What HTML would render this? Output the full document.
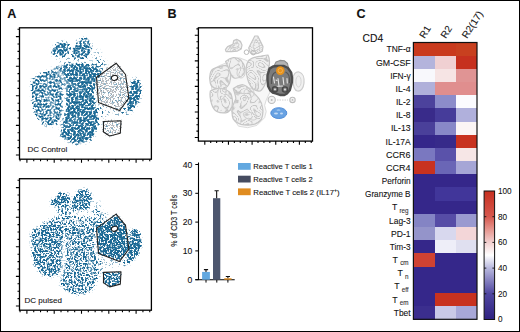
<!DOCTYPE html>
<html><head><meta charset="utf-8"><style>
html,body{margin:0;padding:0;background:#fff;overflow:hidden;width:520px;height:332px;}
svg{display:block;font-family:"Liberation Sans",sans-serif;}
text{fill:#111;stroke:#111;stroke-width:0.1px;}
</style></head><body>
<svg width="520" height="332" viewBox="0 0 520 332">
<defs><linearGradient id="cbg" x1="0" y1="1" x2="0" y2="0"><stop offset="0" stop-color="#2e2180"/><stop offset="0.2" stop-color="#4f46a0"/><stop offset="0.4" stop-color="#b8b8de"/><stop offset="0.5" stop-color="#ffffff"/><stop offset="0.6" stop-color="#f2d0d0"/><stop offset="0.7" stop-color="#e6968f"/><stop offset="0.8" stop-color="#d6584e"/><stop offset="1" stop-color="#c62f1f"/></linearGradient>
<filter id="cont" filterUnits="userSpaceOnUse" x="198" y="28" width="115" height="114" color-interpolation-filters="sRGB">
 <feTurbulence type="fractalNoise" baseFrequency="0.1" numOctaves="1" seed="4" result="n"/>
 <feColorMatrix in="n" type="matrix" values="0 0 0 0 0  0 0 0 0 0  0 0 0 0 0  1 0 0 0 0" result="na"/>
 <feComponentTransfer in="na" result="b"><feFuncA type="table" tableValues="0 1 0 1 0 1 0 1 0 1 0 1 0 1 0 1 0"/></feComponentTransfer>
 <feComponentTransfer in="b" result="b2"><feFuncA type="linear" slope="2.2" intercept="-1.1"/></feComponentTransfer>
 <feFlood flood-color="#c6c6c6"/>
 <feComposite in2="b2" operator="in" result="lines"/>
 <feComposite in="lines" in2="SourceAlpha" operator="in" result="l2"/>
 <feGaussianBlur in="l2" stdDeviation="0.35"/>
</filter>
<filter id="vb"><feGaussianBlur stdDeviation="0.8"/></filter>
<mask id="veins" maskUnits="userSpaceOnUse" x="0" y="0" width="520" height="332">
 <rect x="0" y="0" width="520" height="332" fill="#fff"/>
 <g filter="url(#vb)" fill="none" stroke-linecap="round">
  <path d="M53,66 L59,73 L65.5,83.5 L65,95" stroke="#555" stroke-width="2.4"/>
  <path d="M53,69 C57,69 61,71 63.7,75.3 L65,82" stroke="#888" stroke-width="1.6"/>
  <path d="M46,78 L52,80 L57,83" stroke="#999" stroke-width="1.8"/>
  <path d="M67,81.7 L74,86 L81.7,91.3" stroke="#999" stroke-width="1.8"/>
  <path d="M44,78 L48,86 L51,92" stroke="#aaa" stroke-width="2"/>
  <path d="M66,126 L74,120 L82.6,114.9" stroke="#aaa" stroke-width="1.6"/>
  <path d="M64.5,96 L63.6,108 L62,120 L58.5,127.5" stroke="#444" stroke-width="2.4"/>
  <path d="M48,95 L52,108 L53,116" stroke="#aaa" stroke-width="4"/>
 </g>
</mask>
<mask id="veins2" maskUnits="userSpaceOnUse" x="0" y="0" width="520" height="332">
 <rect x="0" y="0" width="520" height="332" fill="#fff"/>
 <g filter="url(#vb)" fill="none" stroke-linecap="round">
  <path d="M63.5,92 L63.6,110 L62.5,121 L60,128" stroke="#444" stroke-width="3"/>
  <path d="M66,84 L70,95 L72,105" stroke="#aaa" stroke-width="2.5"/>
  <path d="M88,100 L90,112 L92,125" stroke="#aaa" stroke-width="3"/>
 </g>
</mask>
<filter id="spk" filterUnits="userSpaceOnUse" x="19" y="27" width="133" height="285" color-interpolation-filters="sRGB">
 <feGaussianBlur in="SourceAlpha" stdDeviation="1.3" result="d"/>
 <feTurbulence type="fractalNoise" baseFrequency="0.5" numOctaves="3" seed="7" result="n"/>
 <feColorMatrix in="n" type="matrix" values="0 0 0 0 0  0 0 0 0 0  0 0 0 0 0  3.1 0 0 0 -1.05" result="na"/>
 <feComposite in="d" in2="na" operator="arithmetic" k1="0" k2="1" k3="-1" k4="0" result="df"/>
 <feComponentTransfer in="df" result="th"><feFuncA type="linear" slope="2.2" intercept="0"/></feComponentTransfer>
 <feFlood flood-color="#1b6995"/>
 <feComposite in2="th" operator="in"/>
</filter>
<filter id="spk2" filterUnits="userSpaceOnUse" x="19" y="27" width="133" height="285" color-interpolation-filters="sRGB">
 <feGaussianBlur in="SourceAlpha" stdDeviation="1.3" result="d"/>
 <feTurbulence type="fractalNoise" baseFrequency="0.55" numOctaves="3" seed="19" result="n"/>
 <feColorMatrix in="n" type="matrix" values="0 0 0 0 0  0 0 0 0 0  0 0 0 0 0  3.1 0 0 0 -1.05" result="na"/>
 <feComposite in="d" in2="na" operator="arithmetic" k1="0" k2="1" k3="-1" k4="0" result="df"/>
 <feComponentTransfer in="df" result="th"><feFuncA type="linear" slope="2.2" intercept="0"/></feComponentTransfer>
 <feFlood flood-color="#1b6995"/>
 <feComposite in2="th" operator="in"/>
</filter>
<filter id="spkg" filterUnits="userSpaceOnUse" x="19" y="27" width="133" height="285" color-interpolation-filters="sRGB">
 <feGaussianBlur in="SourceAlpha" stdDeviation="1.0" result="d"/>
 <feTurbulence type="fractalNoise" baseFrequency="0.8" numOctaves="2" seed="11" result="n"/>
 <feColorMatrix in="n" type="matrix" values="0 0 0 0 0  0 0 0 0 0  0 0 0 0 0  3.1 0 0 0 -1.05" result="na"/>
 <feComposite in="d" in2="na" operator="arithmetic" k1="0" k2="1" k3="-1" k4="0" result="df"/>
 <feComponentTransfer in="df" result="th"><feFuncA type="linear" slope="25" intercept="0"/></feComponentTransfer>
 <feFlood flood-color="#b9bcc0"/>
 <feComposite in2="th" operator="in"/>
</filter>
</defs>
<rect x="0" y="0" width="520" height="332" fill="#fff"/>
<g font-weight="bold" font-size="12.6"><text x="7.2" y="18.1">A</text><text x="167.6" y="18.1">B</text><text x="356.6" y="18.3">C</text></g>
<g transform="translate(0,0)" mask="url(#veins)">
<g filter="url(#spkg)"><path d="M116.1,63.2 L125.5,74.5 L128.9,98.1 L119.5,110.5 L98.5,102.5 L96.5,77.5 Z" fill-opacity="0.45"/><path d="M103.5,121.5 L121,120.8 L120.3,133.2 L109.7,136 L103.5,132 Z" fill-opacity="0.4"/></g>
<g filter="url(#spk)"><path d="M49.5,53 L52,49 L55,45 L58.9,42.1 L63,41.5 L68.8,43 L70.6,48.4 L69,53 L66.1,56.6 L61,56 L57,55.7 L51.7,54.8 Z" fill-opacity="0.85"/><path d="M71.5,50 L74,45 L78,40 L84.2,37.6 L89,39 L91.5,44 L92.3,50 L90,55 L86,58 L80,59 L74,59 L71.5,56 Z" fill-opacity="0.82"/><path d="M133,78 L137,78.5 L140,82 L141.5,89 L141,97 L138,104 L133,109 L128,110.5 L126.5,105 L127.5,98 L129.5,90 L131,83 Z" fill-opacity="0.9"/><path d="M96,58 L108,62 L104,72 L96,77 L92,70 Z" fill-opacity="0.3"/><path d="M97,105 L104,108 L104,121 L99,127 L96,120 Z" fill-opacity="0.3"/><path d="M122,108 L131,106 L133,112 L126,116 L121,114 Z" fill-opacity="0.35"/><path d="M99,104 L119,111 L128,104 L133,106 L131,112 L120,116 L105,117 L99,112 Z" fill-opacity="0.25"/><path d="M91,48 L100,50 L104,58 L103,66 L96,62 Z" fill-opacity="0.2"/><path d="M43,72.5 L48,70.5 L54,67 L60,64.5 L64,65 L64,80 L63.5,95 L63,104 L63,113 L61,120 L57,124.5 L51,126.5 L44.6,125.6 L39.6,121.5 L34.6,115 L32.5,108 L32,100 L31.3,92 L31,85 L31.6,80 L36,76 Z" fill-opacity="0.76"/><path d="M63,64.5 L70,63 L80,63 L90,63.5 L96,66 L100,69 L103,72.5 L97,78 L94.5,90 L95,100 L97,108 L98,118 L98,125 L97.5,129.3 L92.2,139.9 L83,143.8 L76.3,144.5 L71,142.2 L63.6,139.7 L60.3,134.7 L60.3,128 L62.8,119.8 L65.5,108 L65.5,95 L64.5,80 Z" fill-opacity="0.88"/><path d="M57,54 L66,56 L71.5,58 L72,64 L66,64.7 L58,65 Z" fill-opacity="0.12"/><path d="M52,58 L70,55 L77,57 L91,57 L98,58 L103,63 L104,70 L98,66 L90,62 L62,63 Z" fill-opacity="0.14"/><path d="M116.1,63.2 L125.5,74.5 L128.9,98.1 L119.5,110.5 L98.5,102.5 L96.5,77.5 Z" fill-opacity="0.22"/><path d="M103.5,121.5 L121,120.8 L120.3,133.2 L109.7,136 L103.5,132 Z" fill-opacity="0.25"/></g>
</g>
<g transform="translate(0,0)" fill="none" stroke="#222" stroke-width="1.1" stroke-linejoin="round"><path d="M116.1,63.2 L125.5,74.5 L128.9,98.1 L119.5,110.5 L98.5,102.5 L96.5,77.5 Z"/><path d="M103.5,121.5 L121,120.8 L120.3,133.2 L109.7,136 L103.5,132 Z"/><ellipse cx="114.5" cy="77.9" rx="3.2" ry="2.4" transform="rotate(-15 114.5 77.9)" fill="#fff"/></g>
<g transform="translate(0,150.9)" mask="url(#veins2)">
<g filter="url(#spk2)"><path d="M49.5,53 L52,49 L55,45 L58.9,42.1 L63,41.5 L68.8,43 L70.6,48.4 L69,53 L66.1,56.6 L61,56 L57,55.7 L51.7,54.8 Z" fill-opacity="0.85"/><path d="M71.5,50 L74,45 L78,40 L84.2,37.6 L89,39 L91.5,44 L92.3,50 L90,55 L86,58 L80,59 L74,59 L71.5,56 Z" fill-opacity="0.82"/><path d="M133,78 L137,78.5 L140,82 L141.5,89 L141,97 L138,104 L133,109 L128,110.5 L126.5,105 L127.5,98 L129.5,90 L131,83 Z" fill-opacity="0.9"/><path d="M96,58 L108,62 L104,72 L96,77 L92,70 Z" fill-opacity="0.3"/><path d="M97,105 L104,108 L104,121 L99,127 L96,120 Z" fill-opacity="0.3"/><path d="M122,108 L131,106 L133,112 L126,116 L121,114 Z" fill-opacity="0.35"/><path d="M99,104 L119,111 L128,104 L133,106 L131,112 L120,116 L105,117 L99,112 Z" fill-opacity="0.25"/><path d="M91,48 L100,50 L104,58 L103,66 L96,62 Z" fill-opacity="0.2"/><path d="M45,74 L50,72.5 L55,73 L60,74 L63,78 L63.5,95 L63,104 L63,113 L61,120 L57,124.5 L51,126.5 L44.6,125.6 L39.6,121.5 L34.6,115 L32.5,108 L32,100 L31,92 L30.5,85 L31.6,80 L36,77 Z" fill-opacity="0.76"/><path d="M38,77 L45,70 L55,66 L62,64 L70,64 L80,65 L90,65.5 L96,66 L100,69 L103,72.5 L97,78 L95,82 L80,80 L66,80 L50,76 Z" fill-opacity="0.55"/><path d="M64,76 L75,77 L85,78 L95,80 L94.5,90 L95,100 L97,108 L98,118 L98,125 L97.5,129.3 L92.2,139.9 L83,143.8 L76.3,144.5 L71,142.2 L63.6,139.7 L60.3,134.7 L60.3,128 L62.8,119.8 L65.5,108 L65.5,95 Z" fill-opacity="0.68"/><path d="M57,54 L66,56 L71.5,58 L72,64 L66,64.7 L58,65 Z" fill-opacity="0.35"/><path d="M52,58 L70,55 L77,57 L91,57 L98,58 L103,63 L104,70 L98,66 L90,62 L62,63 Z" fill-opacity="0.3"/><path d="M116.1,63.2 L125.5,74.5 L128.9,98.1 L119.5,110.5 L98.5,102.5 L96.5,77.5 Z" fill-opacity="0.97"/><path d="M103.5,121.5 L121,120.8 L120.3,133.2 L109.7,136 L103.5,132 Z" fill-opacity="0.85"/><path d="M128,80 L133,77 L137,78 L140,82 L141.5,89 L141,97 L138,104 L133,109 L128,110 L126.5,105 L127.5,98 L128,90 Z" fill-opacity="0.5"/></g>
</g>
<g transform="translate(0,150.9)" fill="none" stroke="#222" stroke-width="1.1" stroke-linejoin="round"><path d="M116.1,63.2 L125.5,74.5 L128.9,98.1 L119.5,110.5 L98.5,102.5 L96.5,77.5 Z"/><path d="M103.5,121.5 L121,120.8 L120.3,133.2 L109.7,136 L103.5,132 Z"/><ellipse cx="114.5" cy="77.9" rx="3.2" ry="2.4" transform="rotate(-15 114.5 77.9)" fill="#fff"/></g>
<rect x="19.5" y="27.8" width="131.9" height="131.39999999999998" fill="none" stroke="#000" stroke-width="1.3"/>
<path d="M17.50 29.20H19.5M15.90 36.60H19.5M17.50 44.00H19.5M17.50 51.40H19.5M17.50 58.80H19.5M15.90 66.20H19.5M17.50 73.60H19.5M17.50 81.00H19.5M17.50 88.40H19.5M15.90 95.80H19.5M17.50 103.20H19.5M17.50 110.60H19.5M17.50 118.00H19.5M15.90 125.40H19.5M17.50 132.80H19.5M17.50 140.20H19.5M17.50 147.60H19.5M15.90 155.00H19.5M20.07 159.2V161.20M26.90 159.2V162.80M33.73 159.2V161.20M40.55 159.2V161.20M47.38 159.2V161.20M54.20 159.2V162.80M61.02 159.2V161.20M67.85 159.2V161.20M74.67 159.2V161.20M81.50 159.2V162.80M88.33 159.2V161.20M95.15 159.2V161.20M101.97 159.2V161.20M108.80 159.2V162.80M115.62 159.2V161.20M122.45 159.2V161.20M129.28 159.2V161.20M136.10 159.2V162.80M142.93 159.2V161.20M149.75 159.2V161.20" stroke="#000" stroke-width="1.1"/>
<rect x="19.5" y="178.7" width="131.9" height="131.5" fill="none" stroke="#000" stroke-width="1.3"/>
<path d="M17.50 180.20H19.5M15.90 187.60H19.5M17.50 195.00H19.5M17.50 202.40H19.5M17.50 209.80H19.5M15.90 217.20H19.5M17.50 224.60H19.5M17.50 232.00H19.5M17.50 239.40H19.5M15.90 246.80H19.5M17.50 254.20H19.5M17.50 261.60H19.5M17.50 269.00H19.5M15.90 276.40H19.5M17.50 283.80H19.5M17.50 291.20H19.5M17.50 298.60H19.5M15.90 306.00H19.5M20.07 310.2V312.20M26.90 310.2V313.80M33.73 310.2V312.20M40.55 310.2V312.20M47.38 310.2V312.20M54.20 310.2V313.80M61.02 310.2V312.20M67.85 310.2V312.20M74.67 310.2V312.20M81.50 310.2V313.80M88.33 310.2V312.20M95.15 310.2V312.20M101.97 310.2V312.20M108.80 310.2V313.80M115.62 310.2V312.20M122.45 310.2V312.20M129.28 310.2V312.20M136.10 310.2V313.80M142.93 310.2V312.20M149.75 310.2V312.20" stroke="#000" stroke-width="1.1"/>
<text x="27.6" y="151.8" font-size="8" fill="#222">DC Control</text>
<text x="24.6" y="302.9" font-size="8" fill="#222">DC pulsed</text>

<path d="M212.5,69.2 L220,65.4 L227.6,62.4 L232.9,58.7 L239.7,57.9 L245.7,60.2 L250.2,62.4 L256.3,58.7 L262.3,57.1 L268,62 L269,70 L267.2,77.1 L268.1,86.2 L270,92 L266.2,100 L264.6,105.4 L266.2,111.5 L264.6,117.7 L256.9,125.4 L247.7,127.7 L238.5,126.2 L233.8,119.2 L233.9,113.4 L231,110.5 L228.5,109.8 L219.5,108.9 L214,106.2 L210.4,100.7 L212.2,91.7 L210.4,79 Z" fill="#f7f7f7" stroke="#dcdcdc" stroke-width="1" stroke-linejoin="round"/>
<g fill="#efefef" stroke="#c6c6c6" stroke-width="1.2" stroke-linejoin="round">
<path d="M225.4,49.6 L227.6,46.6 L232.9,44.3 L233.7,40.6 L236.7,39.4 L240.4,41.3 L242,45.1 L241.2,48.9 L237.4,51.1 L231.4,51.6 L226.1,51.6 Z"/>
<path d="M250.2,45.1 L254.8,36 L257.8,36 L260.8,42.1 L263,46.6 L262.3,51.1 L257.8,53.4 L253.3,54.1 L250.2,52.6 L248.7,48.1 Z"/>
<path d="M210.3,73 C211,70 213,68.5 215.4,68 C219,66.5 222,65.5 225.6,65.4 C229,67 231,70 230.8,73 C231,77 230.5,80 229.5,83.3 C228,86 226.5,88 224.4,88.5 C221,89.5 218,89.5 215.4,88.5 C212.5,87.5 211,85.5 210.3,83.3 C209.5,80 209.5,76 210.3,73 Z"/>
<path d="M210.3,91 C213.5,89 217,88 220.5,88.5 C225,89 229,91 230.8,93.6 C232.5,97.5 232.8,102.5 232,106.4 C230.5,110 228.5,112.5 225.6,112.8 C222.5,113.2 219.5,112.8 216.7,111.5 C214,110 212.5,107 211.5,103.8 C210.5,100 209.5,95 210.3,91 Z"/>
<path d="M225.6,61.5 C228,59.5 230.5,58 233.3,57.7 C236.5,57.5 239,58.5 241,60.3 C243,62.5 244.5,65 244.9,68 C245.2,71 244,73.8 242.3,75.6 C240,77.5 237,78.5 234.6,78.2 C232,77.5 230.5,74 229.5,70.5 C228.5,67 226.5,64 225.6,61.5 Z"/>
<path d="M246.2,68 C246.5,64.5 247.5,62 248.7,60.3 C252,58 255.5,56.8 259,56.4 C262,56 265.5,55 268,55 C269.5,58 269.8,62 269.2,65.4 C268.5,71.5 267.5,77.5 265.4,83.3 C264,87 262.5,89.5 260.3,91 C257.5,91.5 255,90.5 252.6,88.5 C250,86 248.3,82 247.4,78.2 C246.5,75 246,71.5 246.2,68 Z"/>
<path d="M233.3,88.5 C236,86.5 239,85 242.3,84.6 C245.5,85 248.5,87.5 251.3,91 C254.5,93.5 257,96 259,98.7 C261,101.5 262.5,105 262.8,109 C263.2,112.5 262.7,116 261.5,119.2 C259.5,122 256.5,123.8 253.8,124.4 C249.5,125.5 245,125.3 241,124.4 C237.5,123.5 235,121.5 233.3,119.2 C232,116 231.8,112.5 232,109 C232.5,105.5 234.5,102 235.9,98.7 C235.5,95 234,91.5 233.3,88.5 Z"/>
</g>
<path d="M293,79 C293,74 296,71.5 299,72 C303,73 304.5,78 304,83 C303.5,88 301,91.5 297.5,91 C294,90.5 293,85 293,79 Z" fill="#f1f1f1" stroke="#cdcdcd" stroke-width="1.2"/>
<g filter="url(#cont)">
<path d="M210.3,73 C211,70 213,68.5 215.4,68 C219,66.5 222,65.5 225.6,65.4 C229,67 231,70 230.8,73 C231,77 230.5,80 229.5,83.3 C228,86 226.5,88 224.4,88.5 C221,89.5 218,89.5 215.4,88.5 C212.5,87.5 211,85.5 210.3,83.3 C209.5,80 209.5,76 210.3,73 Z"/>
<path d="M210.3,91 C213.5,89 217,88 220.5,88.5 C225,89 229,91 230.8,93.6 C232.5,97.5 232.8,102.5 232,106.4 C230.5,110 228.5,112.5 225.6,112.8 C222.5,113.2 219.5,112.8 216.7,111.5 C214,110 212.5,107 211.5,103.8 C210.5,100 209.5,95 210.3,91 Z"/>
<path d="M225.6,61.5 C228,59.5 230.5,58 233.3,57.7 C236.5,57.5 239,58.5 241,60.3 C243,62.5 244.5,65 244.9,68 C245.2,71 244,73.8 242.3,75.6 C240,77.5 237,78.5 234.6,78.2 C232,77.5 230.5,74 229.5,70.5 C228.5,67 226.5,64 225.6,61.5 Z"/>
<path d="M246.2,68 C246.5,64.5 247.5,62 248.7,60.3 C252,58 255.5,56.8 259,56.4 C262,56 265.5,55 268,55 C269.5,58 269.8,62 269.2,65.4 C268.5,71.5 267.5,77.5 265.4,83.3 C264,87 262.5,89.5 260.3,91 C257.5,91.5 255,90.5 252.6,88.5 C250,86 248.3,82 247.4,78.2 C246.5,75 246,71.5 246.2,68 Z"/>
<path d="M233.3,88.5 C236,86.5 239,85 242.3,84.6 C245.5,85 248.5,87.5 251.3,91 C254.5,93.5 257,96 259,98.7 C261,101.5 262.5,105 262.8,109 C263.2,112.5 262.7,116 261.5,119.2 C259.5,122 256.5,123.8 253.8,124.4 C249.5,125.5 245,125.3 241,124.4 C237.5,123.5 235,121.5 233.3,119.2 C232,116 231.8,112.5 232,109 C232.5,105.5 234.5,102 235.9,98.7 C235.5,95 234,91.5 233.3,88.5 Z"/>
<path d="M225.4,49.6 L227.6,46.6 L232.9,44.3 L233.7,40.6 L236.7,39.4 L240.4,41.3 L242,45.1 L241.2,48.9 L237.4,51.1 L231.4,51.6 L226.1,51.6 Z"/>
<path d="M250.2,45.1 L254.8,36 L257.8,36 L260.8,42.1 L263,46.6 L262.3,51.1 L257.8,53.4 L253.3,54.1 L250.2,52.6 L248.7,48.1 Z"/>
</g>
<g fill="none" stroke="#d0d0d0" stroke-width="1">
<path d="M229,48 L234,46 L236,42 L239,44 L238,48 Z"/>
<path d="M253,46 L256,39 L259,44 L260,49 L255,51 Z"/>
<circle cx="246.5" cy="52.2" r="2.3" stroke="#bbb"/><circle cx="253.2" cy="52.6" r="2.3" stroke="#bbb"/>
<ellipse cx="222" cy="92" rx="4" ry="8" transform="rotate(15 222 92)"/>
<ellipse cx="241" cy="73" rx="4" ry="5"/>
<ellipse cx="249" cy="93" rx="5" ry="5"/>
<ellipse cx="250" cy="116" rx="7" ry="3.5" transform="rotate(20 250 116)"/>
<ellipse cx="298.5" cy="81.5" rx="2.6" ry="5.5" stroke="#d6d6d6"/>
</g>
<g fill="#f2f2f2" stroke="#bdbdbd" stroke-width="1.1"><circle cx="271.7" cy="99.9" r="3.6"/><circle cx="292.5" cy="99.9" r="2.7"/></g>
<g fill="#bdbdbd"><circle cx="271.7" cy="99.9" r="1"/><circle cx="292.5" cy="99.9" r="0.9"/></g>
<path d="M277,100 H288" stroke="#c4c4c4" stroke-width="0.8" stroke-dasharray="1.5 1"/>
<path d="M273.5,67 L276,62 L280,60.4 L284.5,60.8 L287.5,63.5 L288.5,68 Z" fill="#b4b4b4" stroke="#8c8c8c" stroke-width="1.1" stroke-linejoin="round"/>
<path d="M269.5,68.6 L273,66.5 L277,66 L284,66 L288,68 L291.2,72.6 L292,78 L291.9,82.1 L289.8,90.3 L287,93.5 L284.4,95 L280,95 L276.3,93.6 L272.5,92.5 L270.2,90.3 L268.1,86.2 L267.5,80 L267.5,75.3 Z" fill="#7c7c7c" stroke="#4e4e4e" stroke-width="2.4" stroke-linejoin="round"/>
<g fill="none" stroke="#555" stroke-width="1.2"><path d="M271.5,84 C271,78 272.5,73 276,72"/><path d="M289.5,83 C290,77 288.5,73 285.5,72"/></g>
<g fill="none" stroke="#e6e6e6" stroke-width="1.1" stroke-linecap="round"><path d="M273.5,77 L274.5,83"/><path d="M278,78.5 L279,86"/><path d="M283,77.5 L283.8,84.5"/><path d="M287,78.5 L287.3,83"/><path d="M275,86.5 L282.5,86"/><path d="M276,80 L277,80.5"/></g>
<g fill="none" stroke="#474747" stroke-width="1.4"><circle cx="275" cy="89.3" r="2.6"/><circle cx="285" cy="89.5" r="2.6"/></g>
<g fill="#e8e8e8"><circle cx="275" cy="89.3" r="0.9"/><circle cx="285" cy="89.5" r="0.9"/></g>
<circle cx="280.3" cy="70.6" r="4.3" fill="#e8921a"/>
<circle cx="280.3" cy="70.6" r="2.2" fill="none" stroke="#f3b358" stroke-width="0.9"/>
<ellipse cx="278.8" cy="113.1" rx="8" ry="5.4" fill="#68a2e2" stroke="#4f8cd8" stroke-width="1"/>
<g fill="#c2daf4"><ellipse cx="276" cy="113.5" rx="2" ry="1"/><ellipse cx="281.5" cy="113.5" rx="1.5" ry="1"/><ellipse cx="278.5" cy="110" rx="2" ry="0.6"/></g>

<rect x="198.4" y="27.8" width="114.1" height="113.3" fill="none" stroke="#000" stroke-width="1.3"/>
<path d="M196.40 28.91H198.4M194.80 35.30H198.4M196.40 41.69H198.4M196.40 48.07H198.4M196.40 54.46H198.4M194.80 60.85H198.4M196.40 67.24H198.4M196.40 73.62H198.4M196.40 80.01H198.4M194.80 86.40H198.4M196.40 92.79H198.4M196.40 99.17H198.4M196.40 105.56H198.4M194.80 111.95H198.4M196.40 118.34H198.4M196.40 124.72H198.4M196.40 131.11H198.4M194.80 137.50H198.4M204.80 141.1V144.70M210.71 141.1V143.10M216.62 141.1V143.10M222.54 141.1V143.10M228.45 141.1V144.70M234.36 141.1V143.10M240.28 141.1V143.10M246.19 141.1V143.10M252.10 141.1V144.70M258.01 141.1V143.10M263.93 141.1V143.10M269.84 141.1V143.10M275.75 141.1V144.70M281.66 141.1V143.10M287.57 141.1V143.10M293.49 141.1V143.10M299.40 141.1V144.70M305.31 141.1V143.10M311.23 141.1V143.10" stroke="#000" stroke-width="1.1"/>
<path d="M198.5 162.4V279.7M195.3 279.7H234.7" stroke="#000" stroke-width="1.1" fill="none"/>
<text x="192.3" y="282.70" font-size="8.6" text-anchor="end">0</text>
<text x="192.3" y="253.90" font-size="8.6" text-anchor="end">10</text>
<text x="192.3" y="225.10" font-size="8.6" text-anchor="end">20</text>
<text x="192.3" y="196.30" font-size="8.6" text-anchor="end">30</text>
<text x="192.3" y="167.50" font-size="8.6" text-anchor="end">40</text>
<path d="M195.3 279.70H198.5M195.3 250.90H198.5M195.3 222.10H198.5M195.3 193.30H198.5M195.3 164.50H198.5M206 279.7V282.6M216.8 279.7V282.6M227.9 279.7V282.6" stroke="#000" stroke-width="1"/>
<rect x="202.1" y="271.92" width="7.80" height="7.78" fill="#62a8e0"/>
<path d="M206.00 271.92V269.62M203.90 269.62H208.10" stroke="#111" stroke-width="1.1"/>
<rect x="213.0" y="198.20" width="7.30" height="81.50" fill="#4d566e"/>
<path d="M216.65 198.20V190.71M214.55 190.71H218.75" stroke="#111" stroke-width="1.1"/>
<rect x="224.2" y="278.26" width="7.40" height="1.44" fill="#e08c20"/>
<path d="M227.90 278.26V276.53M225.80 276.53H230.00" stroke="#111" stroke-width="1.1"/>
<text transform="translate(176.6,220.8) rotate(-90)" font-size="9.8" text-anchor="middle" textLength="52" lengthAdjust="spacingAndGlyphs">% of CD3 T cells</text>
<rect x="238" y="163.0" width="12.7" height="6.8" fill="#62a8e0"/>
<text x="253.3" y="169.10" font-size="8" textLength="59.4" lengthAdjust="spacingAndGlyphs">Reactive T cells 1</text>
<rect x="238" y="175.7" width="12.7" height="6.8" fill="#464c60"/>
<text x="253.3" y="181.80" font-size="8" textLength="59.4" lengthAdjust="spacingAndGlyphs">Reactive T cells 2</text>
<rect x="238" y="188.4" width="12.7" height="6.8" fill="#e08c20"/>
<text x="253.3" y="194.50" font-size="8" textLength="86.4" lengthAdjust="spacingAndGlyphs">Reactive T cells 2 (IL17<tspan font-size="5.5" dy="-3">+</tspan><tspan dy="3">)</tspan></text>
<text x="362.6" y="42" font-size="10.3">CD4</text>
<text transform="translate(424.5,39) rotate(-57)" font-size="9.8">R1</text>
<text transform="translate(445.7,39) rotate(-57)" font-size="9.8">R2</text>
<text transform="translate(466.9,39) rotate(-57)" font-size="9.8">R2(17)</text>
<rect x="413.40" y="42.50" width="21.50" height="13.48" fill="#c93a1d" shape-rendering="crispEdges"/>
<rect x="434.60" y="42.50" width="21.50" height="13.48" fill="#c93a1d" shape-rendering="crispEdges"/>
<rect x="455.80" y="42.50" width="21.50" height="13.48" fill="#c8401f" shape-rendering="crispEdges"/>
<text x="410.6" y="52.39" font-size="9.2" text-anchor="end" textLength="24.0" lengthAdjust="spacingAndGlyphs">TNF-α</text>
<rect x="413.40" y="55.68" width="21.50" height="13.48" fill="#b4b4dc" shape-rendering="crispEdges"/>
<rect x="434.60" y="55.68" width="21.50" height="13.48" fill="#f0d0d2" shape-rendering="crispEdges"/>
<rect x="455.80" y="55.68" width="21.50" height="13.48" fill="#c6301f" shape-rendering="crispEdges"/>
<text x="410.6" y="65.57" font-size="9.2" text-anchor="end" textLength="34.6" lengthAdjust="spacingAndGlyphs">GM-CSF</text>
<rect x="413.40" y="68.86" width="21.50" height="13.48" fill="#f8f8fc" shape-rendering="crispEdges"/>
<rect x="434.60" y="68.86" width="21.50" height="13.48" fill="#f6e4e4" shape-rendering="crispEdges"/>
<rect x="455.80" y="68.86" width="21.50" height="13.48" fill="#e09494" shape-rendering="crispEdges"/>
<text x="410.6" y="78.75" font-size="9.2" text-anchor="end" textLength="20.4" lengthAdjust="spacingAndGlyphs">IFN-γ</text>
<rect x="413.40" y="82.04" width="21.50" height="13.48" fill="#b0b0da" shape-rendering="crispEdges"/>
<rect x="434.60" y="82.04" width="21.50" height="13.48" fill="#e08e8e" shape-rendering="crispEdges"/>
<rect x="455.80" y="82.04" width="21.50" height="13.48" fill="#e08e8e" shape-rendering="crispEdges"/>
<text x="410.6" y="91.93" font-size="9.2" text-anchor="end" textLength="15.1" lengthAdjust="spacingAndGlyphs">IL-4</text>
<rect x="413.40" y="95.22" width="21.50" height="13.48" fill="#4c429c" shape-rendering="crispEdges"/>
<rect x="434.60" y="95.22" width="21.50" height="13.48" fill="#8c8cca" shape-rendering="crispEdges"/>
<rect x="455.80" y="95.22" width="21.50" height="13.48" fill="#fbfbfe" shape-rendering="crispEdges"/>
<text x="410.6" y="105.11" font-size="9.2" text-anchor="end" textLength="14.7" lengthAdjust="spacingAndGlyphs">IL-2</text>
<rect x="413.40" y="108.40" width="21.50" height="13.48" fill="#392b8a" shape-rendering="crispEdges"/>
<rect x="434.60" y="108.40" width="21.50" height="13.48" fill="#463c9a" shape-rendering="crispEdges"/>
<rect x="455.80" y="108.40" width="21.50" height="13.48" fill="#b0b0dc" shape-rendering="crispEdges"/>
<text x="410.6" y="118.30" font-size="9.2" text-anchor="end" textLength="14.7" lengthAdjust="spacingAndGlyphs">IL-8</text>
<rect x="413.40" y="121.59" width="21.50" height="13.48" fill="#4a409a" shape-rendering="crispEdges"/>
<rect x="434.60" y="121.59" width="21.50" height="13.48" fill="#8888c8" shape-rendering="crispEdges"/>
<rect x="455.80" y="121.59" width="21.50" height="13.48" fill="#fbf5f5" shape-rendering="crispEdges"/>
<text x="410.6" y="131.48" font-size="9.2" text-anchor="end" textLength="19.7" lengthAdjust="spacingAndGlyphs">IL-13</text>
<rect x="413.40" y="134.77" width="21.50" height="13.48" fill="#35278a" shape-rendering="crispEdges"/>
<rect x="434.60" y="134.77" width="21.50" height="13.48" fill="#372a8a" shape-rendering="crispEdges"/>
<rect x="455.80" y="134.77" width="21.50" height="13.48" fill="#c8321f" shape-rendering="crispEdges"/>
<text x="410.6" y="144.66" font-size="9.2" text-anchor="end" textLength="25.0" lengthAdjust="spacingAndGlyphs">IL-17A</text>
<rect x="413.40" y="147.95" width="21.50" height="13.48" fill="#7a78c0" shape-rendering="crispEdges"/>
<rect x="434.60" y="147.95" width="21.50" height="13.48" fill="#5a52aa" shape-rendering="crispEdges"/>
<rect x="455.80" y="147.95" width="21.50" height="13.48" fill="#f6e6e6" shape-rendering="crispEdges"/>
<text x="410.6" y="157.84" font-size="9.2" text-anchor="end" textLength="24.5" lengthAdjust="spacingAndGlyphs">CCR6</text>
<rect x="413.40" y="161.13" width="21.50" height="13.48" fill="#c8321f" shape-rendering="crispEdges"/>
<rect x="434.60" y="161.13" width="21.50" height="13.48" fill="#6a66b6" shape-rendering="crispEdges"/>
<rect x="455.80" y="161.13" width="21.50" height="13.48" fill="#a6a6d6" shape-rendering="crispEdges"/>
<text x="410.6" y="171.02" font-size="9.2" text-anchor="end" textLength="24.5" lengthAdjust="spacingAndGlyphs">CCR4</text>
<rect x="413.40" y="174.31" width="21.50" height="13.48" fill="#35278a" shape-rendering="crispEdges"/>
<rect x="434.60" y="174.31" width="21.50" height="13.48" fill="#35278a" shape-rendering="crispEdges"/>
<rect x="455.80" y="174.31" width="21.50" height="13.48" fill="#35278a" shape-rendering="crispEdges"/>
<text x="410.6" y="184.20" font-size="9.2" text-anchor="end" textLength="28.8" lengthAdjust="spacingAndGlyphs">Perforin</text>
<rect x="413.40" y="187.49" width="21.50" height="13.48" fill="#35278a" shape-rendering="crispEdges"/>
<rect x="434.60" y="187.49" width="21.50" height="13.48" fill="#41369a" shape-rendering="crispEdges"/>
<rect x="455.80" y="187.49" width="21.50" height="13.48" fill="#41369a" shape-rendering="crispEdges"/>
<text x="410.6" y="197.38" font-size="9.2" text-anchor="end" textLength="45.6" lengthAdjust="spacingAndGlyphs">Granzyme B</text>
<rect x="413.40" y="200.67" width="21.50" height="13.48" fill="#35278a" shape-rendering="crispEdges"/>
<rect x="434.60" y="200.67" width="21.50" height="13.48" fill="#35278a" shape-rendering="crispEdges"/>
<rect x="455.80" y="200.67" width="21.50" height="13.48" fill="#35278a" shape-rendering="crispEdges"/>
<text x="408.6" y="210.36" font-size="8.8" text-anchor="end">T<tspan font-size="6.3" font-style="normal" dx="2.2" dy="2.3" style="fill:#333;stroke:#333">reg</tspan></text>
<rect x="413.40" y="213.85" width="21.50" height="13.48" fill="#8484c4" shape-rendering="crispEdges"/>
<rect x="434.60" y="213.85" width="21.50" height="13.48" fill="#564ca6" shape-rendering="crispEdges"/>
<rect x="455.80" y="213.85" width="21.50" height="13.48" fill="#9a9ad0" shape-rendering="crispEdges"/>
<text x="410.6" y="223.74" font-size="9.2" text-anchor="end" textLength="21.5" lengthAdjust="spacingAndGlyphs">Lag-3</text>
<rect x="413.40" y="227.03" width="21.50" height="13.48" fill="#9494ca" shape-rendering="crispEdges"/>
<rect x="434.60" y="227.03" width="21.50" height="13.48" fill="#d8d8ee" shape-rendering="crispEdges"/>
<rect x="455.80" y="227.03" width="21.50" height="13.48" fill="#f3d6d8" shape-rendering="crispEdges"/>
<text x="410.6" y="236.92" font-size="9.2" text-anchor="end" textLength="19.6" lengthAdjust="spacingAndGlyphs">PD-1</text>
<rect x="413.40" y="240.21" width="21.50" height="13.48" fill="#35278a" shape-rendering="crispEdges"/>
<rect x="434.60" y="240.21" width="21.50" height="13.48" fill="#eeeef8" shape-rendering="crispEdges"/>
<rect x="455.80" y="240.21" width="21.50" height="13.48" fill="#e0e0f0" shape-rendering="crispEdges"/>
<text x="410.6" y="250.10" font-size="9.2" text-anchor="end" textLength="20.8" lengthAdjust="spacingAndGlyphs">Tim-3</text>
<rect x="413.40" y="253.40" width="21.50" height="13.48" fill="#d04232" shape-rendering="crispEdges"/>
<rect x="434.60" y="253.40" width="21.50" height="13.48" fill="#35278a" shape-rendering="crispEdges"/>
<rect x="455.80" y="253.40" width="21.50" height="13.48" fill="#35278a" shape-rendering="crispEdges"/>
<text x="408.6" y="263.09" font-size="8.8" text-anchor="end">T<tspan font-size="6.3" font-style="normal" dx="2.2" dy="2.3" style="fill:#333;stroke:#333">cm</tspan></text>
<rect x="413.40" y="266.58" width="21.50" height="13.48" fill="#35278a" shape-rendering="crispEdges"/>
<rect x="434.60" y="266.58" width="21.50" height="13.48" fill="#35278a" shape-rendering="crispEdges"/>
<rect x="455.80" y="266.58" width="21.50" height="13.48" fill="#35278a" shape-rendering="crispEdges"/>
<text x="408.6" y="276.27" font-size="8.8" text-anchor="end">T<tspan font-size="6.3" font-style="normal" dx="2.2" dy="2.3" style="fill:#333;stroke:#333">n</tspan></text>
<rect x="413.40" y="279.76" width="21.50" height="13.48" fill="#35278a" shape-rendering="crispEdges"/>
<rect x="434.60" y="279.76" width="21.50" height="13.48" fill="#35278a" shape-rendering="crispEdges"/>
<rect x="455.80" y="279.76" width="21.50" height="13.48" fill="#35278a" shape-rendering="crispEdges"/>
<text x="408.6" y="289.45" font-size="8.8" text-anchor="end">T<tspan font-size="6.3" font-style="normal" dx="2.2" dy="2.3" style="fill:#333;stroke:#333">eff</tspan></text>
<rect x="413.40" y="292.94" width="21.50" height="13.48" fill="#35278a" shape-rendering="crispEdges"/>
<rect x="434.60" y="292.94" width="21.50" height="13.48" fill="#c8321f" shape-rendering="crispEdges"/>
<rect x="455.80" y="292.94" width="21.50" height="13.48" fill="#c8321f" shape-rendering="crispEdges"/>
<text x="408.6" y="302.63" font-size="8.8" text-anchor="end">T<tspan font-size="6.3" font-style="normal" dx="2.2" dy="2.3" style="fill:#333;stroke:#333">em</tspan></text>
<rect x="413.40" y="306.12" width="21.50" height="13.48" fill="#3b2e8e" shape-rendering="crispEdges"/>
<rect x="434.60" y="306.12" width="21.50" height="13.48" fill="#c9c9e7" shape-rendering="crispEdges"/>
<rect x="455.80" y="306.12" width="21.50" height="13.48" fill="#a8a8d8" shape-rendering="crispEdges"/>
<text x="410.6" y="316.01" font-size="9.2" text-anchor="end" textLength="16.8" lengthAdjust="spacingAndGlyphs">Tbet</text>
<rect x="413.4" y="42.5" width="63.60000000000002" height="276.8" fill="none" stroke="#111" stroke-width="1.2"/>
<rect x="484.1" y="191.0" width="10.5" height="128.5" fill="url(#cbg)" stroke="#111" stroke-width="1"/>
<text x="498" y="322.40" font-size="8.2" style="stroke-width:0.08px">0</text>
<path d="M484.1 293.80h2.2M494.6 293.80h-2.2" stroke="#111" stroke-width="0.9"/>
<text x="498" y="296.70" font-size="8.2" style="stroke-width:0.08px">20</text>
<path d="M484.1 268.10h2.2M494.6 268.10h-2.2" stroke="#111" stroke-width="0.9"/>
<text x="498" y="271.00" font-size="8.2" style="stroke-width:0.08px">40</text>
<path d="M484.1 242.40h2.2M494.6 242.40h-2.2" stroke="#111" stroke-width="0.9"/>
<text x="498" y="245.30" font-size="8.2" style="stroke-width:0.08px">60</text>
<path d="M484.1 216.70h2.2M494.6 216.70h-2.2" stroke="#111" stroke-width="0.9"/>
<text x="498" y="219.60" font-size="8.2" style="stroke-width:0.08px">80</text>
<text x="498" y="193.90" font-size="8.2" style="stroke-width:0.08px">100</text>
<rect x="0.5" y="0.5" width="519" height="331" fill="none" stroke="#000" stroke-width="1"/>
</svg>
</body></html>
